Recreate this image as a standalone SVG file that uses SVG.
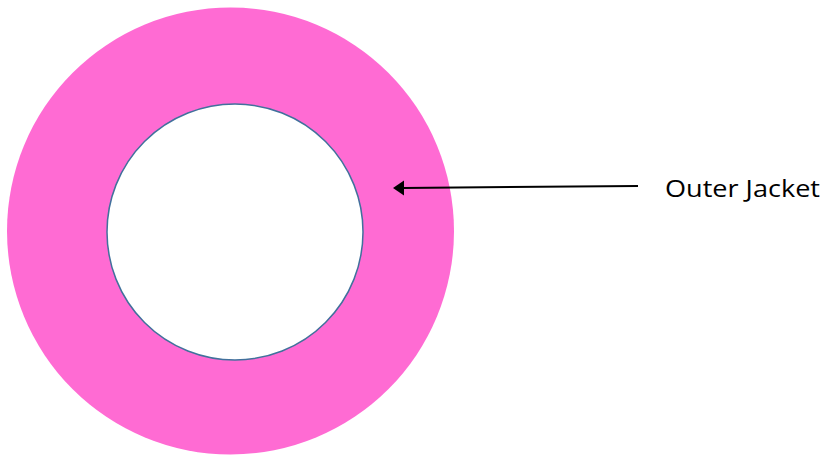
<svg xmlns="http://www.w3.org/2000/svg" width="825" height="455" viewBox="0 0 825 455">
<style>
.lbl{font-family:"Open Sans","Liberation Sans",sans-serif;font-size:24px;fill:#000}
.conn{stroke:#000;stroke-width:2;fill:none}
</style>
<defs>
<marker id="ah" viewBox="0 0 10 10" refX="1" refY="5" markerWidth="5" markerHeight="7" markerUnits="userSpaceOnUse" orient="auto" overflow="visible">
<path d="M0,5 L10,0 L10,10 Z" fill="#000"/>
</marker>
</defs>
<rect width="825" height="455" fill="#fff"/>
<g id="jacket">
<circle cx="230.5" cy="231" r="223.5" fill="#FF6BD3"/>
<circle cx="235" cy="232" r="128" fill="#fff" stroke="#41719C" stroke-width="1.5"/>
</g>
<g id="connectors">
<line class="conn" x1="638" y1="186" x2="403" y2="188"/>
<path d="M393,188 L404,180.5 L404,195.5 Z" fill="#000"/>
</g>
<g id="label">
<text class="lbl" x="665" y="197" textLength="155" lengthAdjust="spacingAndGlyphs">Outer Jacket</text>
</g>
</svg>
